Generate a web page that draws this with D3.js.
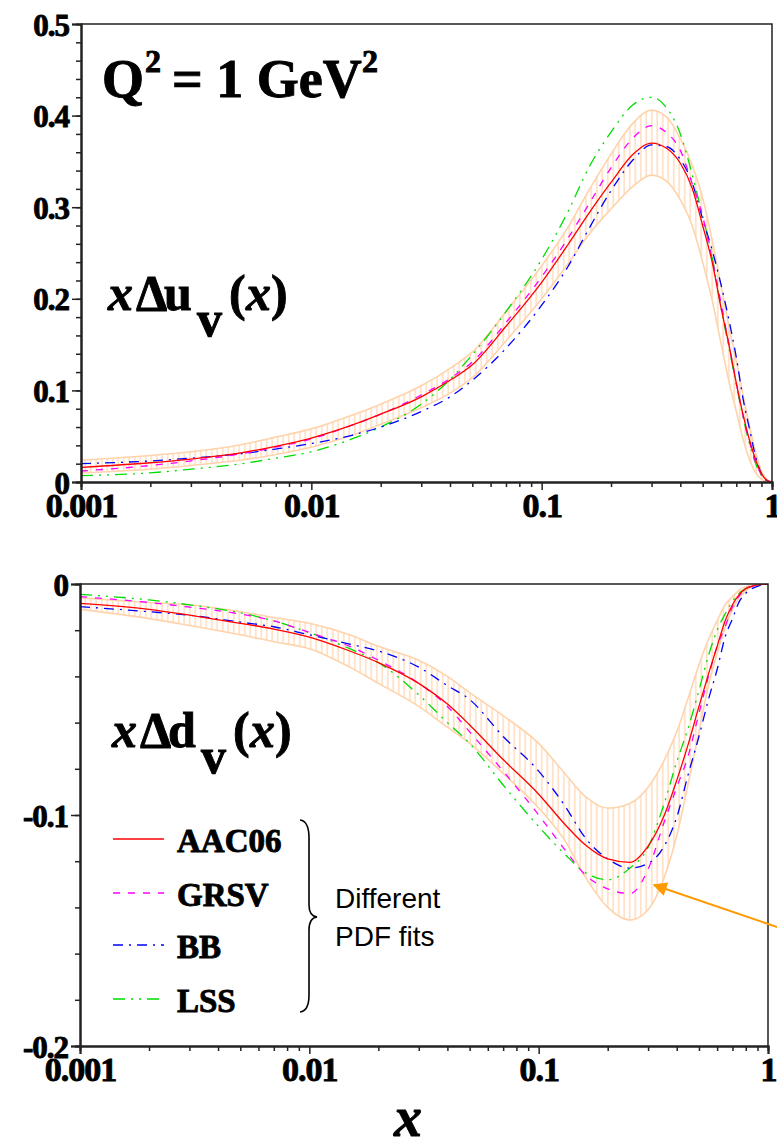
<!DOCTYPE html>
<html>
<head>
<meta charset="utf-8">
<script src="https://cdnjs.cloudflare.com/ajax/libs/d3/7.8.5/d3.min.js"></script>
<style>
  body { margin: 0; background: #fff; }
</style>
</head>
<body>
<svg width="777" height="1145"></svg>
<script>
var SERIF = "'Liberation Serif', 'Times New Roman', Times, serif";
var SANS = "'Liberation Sans', Arial, Helvetica, sans-serif";

// x grid shared by every curve
var xs = [0.001, 0.002, 0.003, 0.005, 0.007, 0.01, 0.015, 0.02, 0.03, 0.04, 0.05, 0.07,
          0.1, 0.13, 0.16, 0.2, 0.25, 0.3, 0.35, 0.4, 0.45, 0.5, 0.55, 0.6, 0.65, 0.7,
          0.75, 0.8, 0.85, 0.9, 0.95, 1];

// x Delta u_v(x), Q^2 = 1 GeV^2
var uAAC06 = [0.016, 0.021, 0.025, 0.032, 0.039, 0.048, 0.062, 0.074, 0.093, 0.111, 0.128, 0.170,
              0.218, 0.259, 0.293, 0.327, 0.358, 0.370, 0.364, 0.348, 0.321, 0.280, 0.240, 0.191, 0.150, 0.108,
              0.073, 0.045, 0.024, 0.009, 0.002, 0];
var uGRSV  = [0.012, 0.018, 0.023, 0.031, 0.038, 0.047, 0.062, 0.074, 0.095, 0.113, 0.131, 0.174,
              0.224, 0.266, 0.303, 0.343, 0.376, 0.389, 0.381, 0.362, 0.326, 0.290, 0.243, 0.196, 0.150, 0.108,
              0.071, 0.043, 0.021, 0.008, 0.002, 0];
var uBB    = [0.020, 0.023, 0.026, 0.031, 0.036, 0.042, 0.051, 0.060, 0.077, 0.093, 0.111, 0.146,
              0.193, 0.235, 0.276, 0.318, 0.352, 0.368, 0.366, 0.352, 0.327, 0.287, 0.253, 0.216, 0.177, 0.136,
              0.090, 0.057, 0.027, 0.009, 0.002, 0];
var uLSS   = [0.007, 0.010, 0.014, 0.020, 0.026, 0.033, 0.047, 0.060, 0.085, 0.112, 0.139, 0.186,
              0.243, 0.295, 0.343, 0.382, 0.412, 0.420, 0.408, 0.380, 0.336, 0.290, 0.246, 0.191, 0.147, 0.106,
              0.070, 0.041, 0.020, 0.007, 0.001, 0];
var uBandHi = [0.024, 0.029, 0.033, 0.041, 0.049, 0.058, 0.073, 0.085, 0.105, 0.124, 0.142, 0.186,
               0.236, 0.278, 0.318, 0.358, 0.392, 0.406, 0.398, 0.375, 0.346, 0.310, 0.264, 0.215, 0.170, 0.132,
               0.094, 0.060, 0.032, 0.012, 0.003, 0];
var uBandLo = [0.010, 0.014, 0.018, 0.024, 0.030, 0.038, 0.051, 0.063, 0.081, 0.097, 0.114, 0.154,
               0.200, 0.238, 0.270, 0.298, 0.323, 0.335, 0.328, 0.308, 0.280, 0.240, 0.198, 0.152, 0.110, 0.077,
               0.046, 0.024, 0.010, 0.003, 0, 0];

// x Delta d_v(x)
var dAAC06 = [-0.0084, -0.011, -0.0135, -0.017, -0.0195, -0.023, -0.029, -0.034, -0.043, -0.052, -0.061, -0.076,
              -0.091, -0.104, -0.113, -0.119, -0.1205, -0.1135, -0.101, -0.085, -0.069, -0.053, -0.039, -0.027, -0.016, -0.009,
              -0.0045, -0.002, -0.001, -0.0004, -0.0001, 0];
var dGRSV  = [-0.0055, -0.008, -0.010, -0.013, -0.016, -0.021, -0.027, -0.033, -0.043, -0.053, -0.064, -0.081,
              -0.100, -0.115, -0.126, -0.132, -0.134, -0.1235, -0.104, -0.088, -0.074, -0.056, -0.040, -0.027, -0.0185, -0.010,
              -0.005, -0.002, -0.001, -0.0004, 0, 0];
var dBB    = [-0.0098, -0.012, -0.0135, -0.0165, -0.0185, -0.022, -0.026, -0.029, -0.036, -0.044, -0.050, -0.066,
              -0.081, -0.096, -0.110, -0.119, -0.123, -0.121, -0.114, -0.101, -0.082, -0.066, -0.050, -0.037, -0.023, -0.015,
              -0.0075, -0.004, -0.002, -0.001, -0.0002, 0];
var dLSS   = [-0.0045, -0.0069, -0.009, -0.0125, -0.016, -0.021, -0.028, -0.034, -0.048, -0.060, -0.069, -0.087,
              -0.105, -0.117, -0.125, -0.128, -0.123, -0.114, -0.096, -0.077, -0.062, -0.046, -0.031, -0.020, -0.013, -0.0075,
              -0.004, -0.002, -0.001, -0.0003, 0, 0];
var dBandHi = [-0.006, -0.008, -0.009, -0.012, -0.0145, -0.017, -0.022, -0.027, -0.033, -0.040, -0.047, -0.057,
               -0.069, -0.082, -0.092, -0.097, -0.095, -0.088, -0.077, -0.064, -0.049, -0.035, -0.024, -0.016, -0.009, -0.0055,
               -0.0027, -0.0012, -0.0005, -0.0002, 0, 0];
var dBandLo = [-0.011, -0.015, -0.018, -0.022, -0.025, -0.028, -0.036, -0.043, -0.053, -0.062, -0.069, -0.082,
               -0.097, -0.111, -0.127, -0.140, -0.1455, -0.141, -0.128, -0.109, -0.086, -0.064, -0.044, -0.030, -0.019, -0.011,
               -0.006, -0.003, -0.0012, -0.0004, -0.0001, 0];

var fitNames = ["AAC06", "GRSV", "BB", "LSS"];
var fitColors = ["#ff0000", "#ff00ff", "#0000ff", "#00dd00"];
var fitDashes = [null, "7,8", "10,6,2,6", "12,6,2,6,2,6"];

var xMajor = [0.001, 0.01, 0.1, 1];
var xMinor = [];
[0.001, 0.01, 0.1].forEach(function(d) {
  for (var k = 2; k <= 9; k++) xMinor.push(d * k);
});

var svg = d3.select("svg");
var defs = svg.append("defs");

// vertical hatching used inside the error band
defs.append("pattern")
    .attr("id", "hatch")
    .attr("patternUnits", "userSpaceOnUse")
    .attr("width", 5.5)
    .attr("height", 10)
  .append("line")
    .attr("x1", 2.75).attr("x2", 2.75)
    .attr("y1", 0).attr("y2", 10)
    .attr("stroke", "#ffd3ab")
    .attr("stroke-width", 1.2);

function fmtX(d) { return d >= 1 ? "1" : d3.format("")(d); }

function drawPanel(p) {
  var x = d3.scaleLog().domain([0.001, 1]).range([p.left, p.right]);
  var y = d3.scaleLinear().domain(p.domain).range([p.bottom, p.top]);
  var g = svg.append("g");

  defs.append("clipPath").attr("id", p.id + "-clip")
    .append("rect")
      .attr("x", p.left).attr("y", p.top)
      .attr("width", p.right - p.left).attr("height", p.bottom - p.top);

  var plot = g.append("g").attr("clip-path", "url(#" + p.id + "-clip)");

  // error band
  var band = xs.map(function(d, i) { return { x: d, hi: p.hi[i], lo: p.lo[i] }; });
  var area = d3.area()
      .x(function(d) { return x(d.x); })
      .y0(function(d) { return y(d.lo); })
      .y1(function(d) { return y(d.hi); })
      .curve(d3.curveMonotoneX);
  plot.append("path").datum(band)
      .attr("d", area)
      .attr("fill", "url(#hatch)")
      .attr("stroke", "none");
  var edge = d3.line().x(function(d) { return x(d[0]); }).y(function(d) { return y(d[1]); })
      .curve(d3.curveMonotoneX);
  [p.hi, p.lo].forEach(function(arr) {
    plot.append("path")
        .datum(xs.map(function(d, i) { return [d, arr[i]]; }))
        .attr("d", edge)
        .attr("fill", "none")
        .attr("stroke", "#ffd3ab")
        .attr("stroke-width", 1.6);
  });

  // the four fits, drawn so that AAC06 ends on top
  [3, 2, 1, 0].forEach(function(k) {
    plot.append("path")
        .datum(xs.map(function(d, i) { return [d, p.fits[k][i]]; }))
        .attr("d", edge)
        .attr("fill", "none")
        .attr("stroke", fitColors[k])
        .attr("stroke-width", 1.3)
        .attr("stroke-dasharray", fitDashes[k]);
  });

  // frame
  g.append("path")
      .attr("d", "M" + p.left + "," + p.top + "H" + p.right + "V" + p.bottom)
      .attr("fill", "none").attr("stroke", "#222").attr("stroke-width", 1.5);

  // x axis
  var xAxis = g.append("g").attr("transform", "translate(0," + p.bottom + ")");
  xAxis.append("g").call(d3.axisBottom(x).tickValues(xMinor).tickSize(5).tickFormat(""));
  xAxis.append("g").call(d3.axisBottom(x).tickValues(xMajor).tickSize(8).tickPadding(3).tickFormat(fmtX));
  xAxis.selectAll("text").attr("font-size", 34).attr("dy", "0.72em").attr("letter-spacing", -1);

  // y axis
  var yAxis = g.append("g").attr("transform", "translate(" + p.left + ",0)");
  yAxis.append("g").call(d3.axisLeft(y).tickValues(p.yMinor).tickSize(5).tickFormat(""));
  yAxis.append("g").call(d3.axisLeft(y).tickValues(p.yMajor).tickSize(9).tickPadding(3)
      .tickFormat(function(d) { return d === 0 ? "0" : d3.format(".1f")(d).replace("\u2212", "-"); }));
  yAxis.selectAll("text").attr("font-size", 31).attr("dy", "0.36em").attr("letter-spacing", -1);

  g.selectAll(".domain").attr("stroke", "#222").attr("stroke-width", 2);
  g.selectAll(".tick line").attr("stroke", "#222").attr("stroke-width", 1.5);
  g.selectAll(".tick text").attr("fill", "#000");
  return { x: x, y: y, g: g };
}

drawPanel({
  id: "u", left: 81, right: 772, top: 24, bottom: 482,
  domain: [0, 0.5],
  yMajor: [0, 0.1, 0.2, 0.3, 0.4, 0.5],
  yMinor: d3.range(0, 0.5, 0.02).map(function(v) { return +v.toFixed(2); }),
  fits: [uAAC06, uGRSV, uBB, uLSS], hi: uBandHi, lo: uBandLo
});

drawPanel({
  id: "d", left: 80, right: 768, top: 584, bottom: 1046,
  domain: [-0.2, 0],
  yMajor: [-0.2, -0.1, 0],
  yMinor: d3.range(-0.2, 0, 0.02).map(function(v) { return +v.toFixed(2); }),
  fits: [dAAC06, dGRSV, dBB, dLSS], hi: dBandHi, lo: dBandLo
});

// Q^2 label
var q = svg.append("text").attr("class", "serif").attr("y", 97).attr("font-size", 54);
q.append("tspan").attr("x", 102).text("Q");
q.append("tspan").attr("x", 145).attr("dy", -25).attr("font-size", 32).text("2");
q.append("tspan").attr("x", 172).attr("dy", 25).text("= 1 GeV");
q.append("tspan").attr("x", 362).attr("dy", -25).attr("font-size", 32).text("2");

// panel labels
function pdfLabel(x0, base, letter) {
  var t = svg.append("text").attr("class", "serif").attr("y", base).attr("font-size", 50);
  t.append("tspan").attr("x", x0).attr("font-style", "italic").text("x");
  t.append("tspan").attr("x", x0 + 28).text("\u0394");
  t.append("tspan").attr("x", x0 + 56).text(letter);
  t.append("tspan").attr("x", x0 + 89).attr("dy", 26).text("v");
  t.append("tspan").attr("x", x0 + 121).attr("dy", -26).text("(");
  t.append("tspan").attr("x", x0 + 138).attr("font-style", "italic").text("x");
  t.append("tspan").attr("x", x0 + 163).text(")");
}
pdfLabel(108, 310, "u");
pdfLabel(112, 747, "d");

// axis title
svg.append("text").attr("class", "serif").attr("x", 408).attr("y", 1136).attr("text-anchor", "middle")
    .attr("font-size", 56).attr("font-style", "italic").text("x");

// legend
var legendY = [839, 893, 945, 999];
var legend = svg.append("g");
fitNames.forEach(function(name, k) {
  legend.append("line")
      .attr("x1", 113).attr("x2", 164)
      .attr("y1", legendY[k]).attr("y2", legendY[k])
      .attr("stroke", fitColors[k]).attr("stroke-width", 1.3)
      .attr("stroke-dasharray", fitDashes[k]);
  legend.append("text")
      .attr("class", "serif")
      .attr("x", 177).attr("y", legendY[k] + 13)
      .attr("font-size", 33)
      .text(name);
});

// brace grouping the fits
legend.append("path")
    .attr("d", "M300,820 Q309,821 309,838 V905 Q309,916 317,917 Q309,918 309,930 V995 Q309,1011 300,1012")
    .attr("fill", "none").attr("stroke", "#000").attr("stroke-width", 1.6);

var note = svg.append("text")
    .attr("font-family", SANS)
    .attr("font-weight", "normal").attr("font-size", 28).attr("fill", "#000");
note.append("tspan").attr("x", 335).attr("y", 908).text("Different");
note.append("tspan").attr("x", 335).attr("y", 946).text("PDF fits");

// arrow pointing at the band
defs.append("marker")
    .attr("id", "head")
    .attr("viewBox", "0 0 10 10")
    .attr("refX", 9).attr("refY", 5)
    .attr("markerWidth", 18).attr("markerHeight", 14)
    .attr("markerUnits", "userSpaceOnUse")
    .attr("orient", "auto")
  .append("path").attr("d", "M0,0 L10,5 L0,10 Z").attr("fill", "#ff9900");
svg.append("line")
    .attr("x1", 780).attr("y1", 928)
    .attr("x2", 654).attr("y2", 885)
    .attr("stroke", "#ff9900").attr("stroke-width", 2)
    .attr("marker-end", "url(#head)");

// all bold serif text, slightly thickened like the original rendering
svg.selectAll(".tick text, text.serif")
    .attr("font-family", SERIF)
    .attr("font-weight", "bold")
    .attr("fill", "#000")
    .attr("stroke", "#000")
    .attr("stroke-width", 0.9);
</script>
</body>
</html>
